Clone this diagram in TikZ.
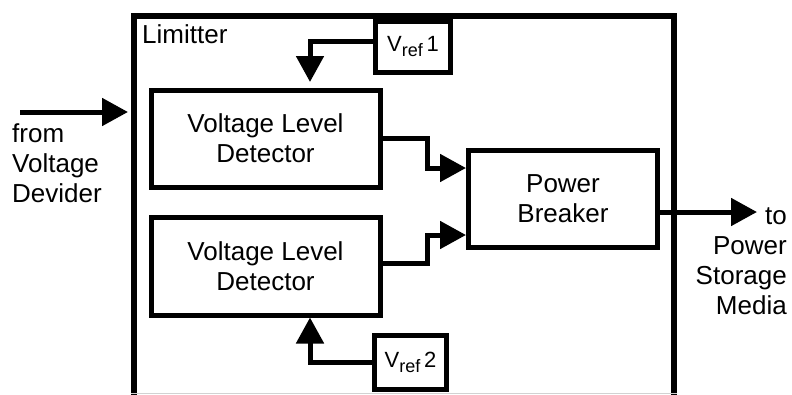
\documentclass[tikz,border=0pt]{standalone}
\usepackage{fontspec}
\setmainfont{Liberation Sans}
\usetikzlibrary{arrows.meta}
\begin{document}
\begin{tikzpicture}[x=1pt,y=-1pt,
  box/.style={draw, line width=5pt, rectangle, inner sep=0pt, align=center, font=\fontsize{26}{30}\selectfont},
  refbox/.style={box, font=\fontsize{22}{26}\selectfont},
  conn/.style={line width=5pt, -{Triangle[length=26pt,width=27pt]}},
  txt/.style={inner sep=0pt, font=\fontsize{26}{30}\selectfont}]
\useasboundingbox (0,0) rectangle (792,394);
% outer Limitter box (bottom edge lies below the picture)
\node[draw, line width=6pt, rectangle, inner sep=0pt, minimum width=540pt, minimum height=410pt] (lim) at (404,220.5) {};
\draw[gray!35, line width=1pt] (lim.south west |- 0,393) -- (lim.south east |- 0,393);
\node[txt, anchor=base west] (limlabel) at (142,43) {Limitter};
% blocks
\node[box, minimum width=229pt, minimum height=97pt] (vld1) at (265.5,138.5) {Voltage Level\\Detector};
\node[box, minimum width=229pt, minimum height=98pt] (vld2) at (265.5,266) {Voltage Level\\Detector};
\node[box, minimum width=189pt, minimum height=97pt] (pb) at (563,199) {Power\\Breaker};
\node[refbox, minimum width=75pt, minimum height=51pt] (vr1) at (413,47) {V\raisebox{-5pt}{\fontsize{18}{18}\selectfont ref}\,1};
\node[refbox, minimum width=72pt, minimum height=54pt] (vr2) at (410.5,362.5) {V\raisebox{-5pt}{\fontsize{18}{18}\selectfont ref}\,2};
% outside texts
\node[txt, anchor=base west] (from) at (12,142) {\begin{tabular}[t]{@{}l@{}}from\\Voltage\\Devider\end{tabular}};
\node[txt, anchor=base east] (to) at (787,224) {\begin{tabular}[t]{@{}r@{}}to\\Power\\Storage\\Media\end{tabular}};
% connectors
\coordinate (in) at (20,112);
\coordinate (out) at (757,212);
\draw[conn, shorten >=3pt] (in) -- (lim.west |- in);
\draw[conn] ([yshift=6pt]vr1.west) -| ([xshift=44.5pt,yshift=5.5pt]vld1.north);
\draw[conn] (vr2.west) -| ([xshift=44.5pt]vld2.south);
\draw[conn] (vld1.east) -- ++(44.5,0) |- ([yshift=31pt]pb.west);
\draw[conn] ([yshift=3pt]vld2.east) -- ++(44.5,0) |- ([yshift=-36pt]pb.west);
\draw[conn] (pb.east |- out) -- (out);
\end{tikzpicture}
\end{document}
